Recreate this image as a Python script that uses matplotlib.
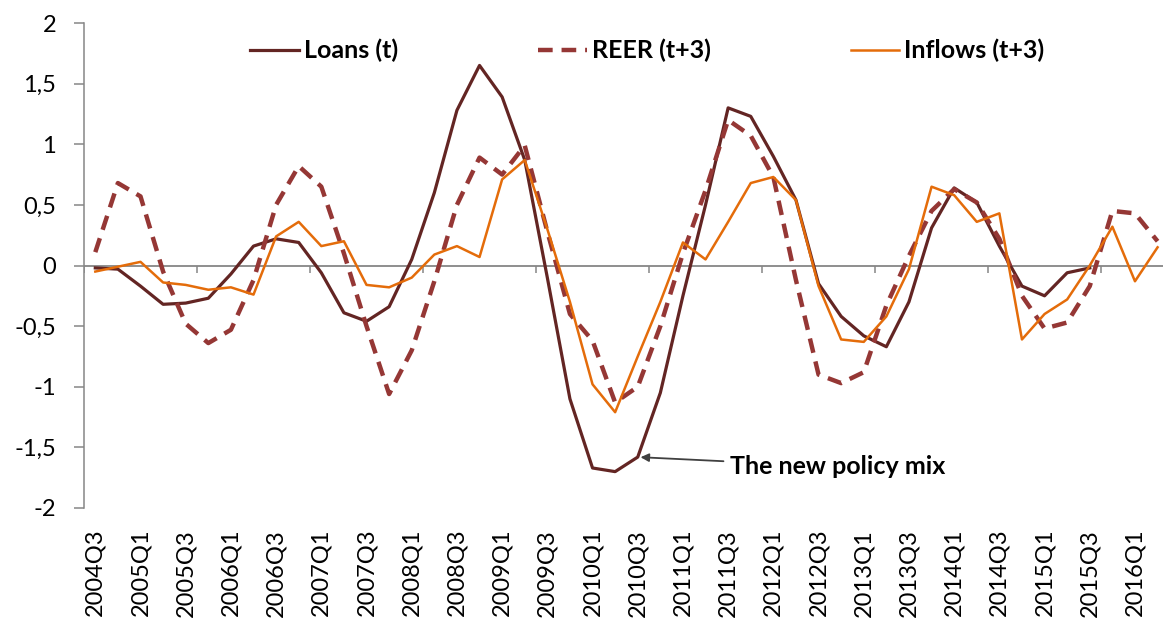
import numpy as np
import matplotlib
matplotlib.use("Agg")
import matplotlib.pyplot as plt

# quarters 2004Q3 .. 2016Q2
quarters = [f"{y}Q{q}" for y in range(2004, 2017) for q in range(1, 5)][2:50]

loans = [-0.02, -0.03, -0.17, -0.32, -0.31, -0.27, -0.07, 0.16, 0.22, 0.19,
         -0.06, -0.39, -0.46, -0.34, 0.05, 0.60, 1.28, 1.65, 1.39, 0.87,
         -0.10, -1.10, -1.67, -1.70, -1.58, -1.05, -0.25, 0.50, 1.30, 1.23,
         0.90, 0.54, -0.15, -0.42, -0.58, -0.67, -0.30, 0.31, 0.64, 0.52,
         0.16, -0.17, -0.25, -0.06, -0.02]

reer = [0.11, 0.68, 0.57, -0.05, -0.48, -0.64, -0.53, -0.12, 0.50, 0.82,
        0.65, 0.10, -0.50, -1.06, -0.70, -0.13, 0.50, 0.89, 0.75, 0.99,
        0.28, -0.40, -0.62, -1.13, -1.00, -0.50, 0.10, 0.62, 1.20, 1.07,
        0.73, -0.12, -0.90, -0.97, -0.88, -0.33, 0.08, 0.45, 0.63, 0.52,
        0.22, -0.25, -0.52, -0.47, -0.17, 0.45, 0.43, 0.20]

inflows = [-0.05, -0.01, 0.03, -0.14, -0.16, -0.20, -0.18, -0.24, 0.24, 0.36,
           0.16, 0.20, -0.16, -0.18, -0.10, 0.09, 0.16, 0.07, 0.71, 0.87,
           0.30, -0.30, -0.98, -1.21, -0.75, -0.30, 0.19, 0.05, 0.36, 0.68,
           0.73, 0.54, -0.17, -0.61, -0.63, -0.42, -0.03, 0.65, 0.58, 0.36,
           0.43, -0.61, -0.40, -0.28, 0.00, 0.32, -0.13, 0.15]

yticks = [-2, -1.5, -1, -0.5, 0, 0.5, 1, 1.5, 2]
ytick_labels = ["-2", "-1,5", "-1", "-0,5", "0", "0,5", "1", "1,5", "2"]

plt.rcParams['font.family'] = ['Lato', 'DejaVu Sans']
gray = "#868686"

fig = plt.figure(figsize=(11.63, 6.27), dpi=100)
ax = fig.add_axes([84 / 1163, 1 - 508 / 627, 1 - 84 / 1163, (508 - 23) / 627])

x = np.arange(len(quarters))
ax.plot(x[:len(loans)], loans, color="#632523", lw=2.3, label="Loans (t)")
ax.plot(x[:len(reer)], reer, color="#953735", lw=3.2, dashes=(3.3, 2.0),
        label="REER (t+3)")
ax.plot(x[:len(inflows)], inflows, color="#E46C0A", lw=1.8, label="Inflows (t+3)")

ax.set_xlim(-0.5, 47.24)
ax.set_ylim(-2, 2)

# zero line acting as category axis
ax.axhline(0, color=gray, lw=1.3, zorder=0)
ax.vlines(np.arange(-0.5, len(quarters), 5), -0.065, 0, color=gray, lw=1.1, zorder=0)

for s in ["top", "right", "bottom"]:
    ax.spines[s].set_visible(False)
ax.spines["left"].set_color(gray)
ax.spines["left"].set_linewidth(1.1)

ax.set_yticks(yticks)
ax.set_yticklabels(ytick_labels, fontsize=17)
ax.tick_params(axis="y", length=7, width=1.1, color=gray, pad=13)

ax.set_xticks(x[::2])
ax.set_xticklabels(quarters[::2], rotation=90, fontsize=17)
ax.tick_params(axis="x", length=0, pad=15)

fig.legend(*ax.get_legend_handles_labels(), loc="upper left",
           bbox_to_anchor=(250 / 1163, 1 - 39 / 627), ncol=3, frameon=False,
           prop={"weight": "bold", "size": 18}, handlelength=1.95,
           handletextpad=0.2, columnspacing=5.6, borderpad=0, borderaxespad=0)

ax.annotate("The new policy mix", xy=(24, loans[24]), xytext=(28.1, -1.66),
            fontsize=18, fontweight="bold", ha="left", va="center",
            arrowprops=dict(arrowstyle="-|>", color="#404040", lw=1.3,
                            mutation_scale=12, shrinkA=3, shrinkB=2))

fig.savefig("out.png", dpi=100)
